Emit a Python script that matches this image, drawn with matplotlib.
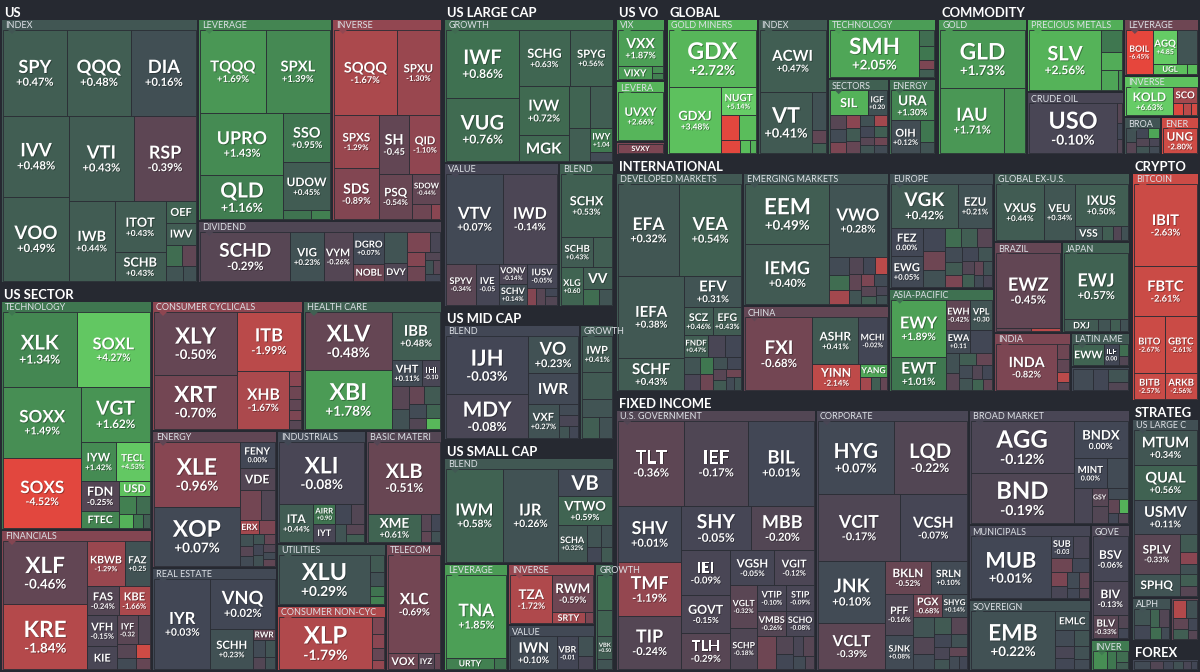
import matplotlib
matplotlib.use("Agg")
import matplotlib.pyplot as plt
from matplotlib.patches import Rectangle, Polygon
from matplotlib.colors import LinearSegmentedColormap, Normalize
from matplotlib.textpath import TextPath
from matplotlib.font_manager import FontProperties
import matplotlib.patheffects as pe

# ---------------- data: (ticker, size, % change) ----------------
US_INDEX = [("SPY", 5.4, 0.47), ("QQQ", 5.5, 0.48), ("DIA", 5.5, 0.16), ("IVV", 5.3, 0.48),
            ("VOO", 5.5, 0.49), ("VTI", 5.5, 0.43), ("RSP", 5.3, -0.39), ("IWB", 3.6, 0.44),
            ("ITOT", 2.6, 0.43), ("SCHB", 1.45, 0.43), ("OEF", 0.65, 0.57), ("IWV", 0.66, 0.45),
            ("", 0.35, 0.8), ("", 0.3, -0.4), ("", 0.25, 0.3), ("", 0.2, 0.2)]
US_LEVERAGE = [("TQQQ", 5.5, 1.69), ("SPXL", 5.4, 1.39), ("UPRO", 5.3, 1.43), ("QLD", 3.7, 1.16),
               ("SSO", 2.35, 0.95), ("UDOW", 2.25, 0.45), ("", 0.25, 0.9), ("", 0.17, 1.2)]
US_INVERSE = [("SQQQ", 5.6, -1.67), ("SPXU", 3.9, -1.30), ("SPXS", 2.5, -1.29), ("SDS", 2.4, -0.89),
              ("SH", 1.9, -0.45), ("QID", 1.9, -1.10), ("PSQ", 1.6, -0.54), ("SDOW", 0.87, -0.44),
              ("", 0.3, -0.6), ("", 0.15, -1.0)]
US_DIVIDEND = [("SCHD", 4.2, -0.29), ("VIG", 1.55, 0.23), ("VYM", 1.35, -0.26), ("DGRO", 0.96, 0.07),
               ("NOBL", 0.53, -0.6), ("", 0.66, 0.3), ("DVY", 0.4, -0.18), ("", 0.42, -0.8),
               ("FVD", 0.2, -0.1), ("", 0.25, -0.9), ("", 0.25, -0.6), ("", 0.12, -0.2),
               ("", 0.1, 0.2), ("", 0.1, -0.3), ("", 0.1, 0.0)]

SEC_TECH = [("XLK", 5.5, 1.34), ("SOXL", 5.5, 4.27), ("SOXX", 5.6, 1.49), ("SOXS", 5.5, -4.52),
            ("VGT", 3.85, 1.62), ("IYW", 1.33, 1.42), ("TECL", 1.33, 4.53), ("FDN", 1.14, -0.25),
            ("FTEC", 0.65, 1.30), ("USD", 0.47, 3.6), ("", 0.3, 1.2), ("", 0.25, 0.8),
            ("", 0.2, 2.5), ("", 0.15, 1.0), ("", 0.1, 0.5)]
SEC_FIN = [("XLF", 5.3, -0.46), ("KRE", 5.4, -1.84), ("KBWB", 1.67, -1.29), ("FAZ", 1.14, 0.25),
           ("FAS", 0.9, -0.24), ("KBE", 0.9, -1.66), ("VFH", 0.93, -0.15), ("KIE", 0.67, -0.1),
           ("IYF", 0.6, -0.32), ("", 0.36, -0.2), ("", 0.25, -0.3), ("", 0.2, 0.1),
           ("", 0.2, -2.8), ("", 0.15, -0.5)]
SEC_CC = [("XLY", 5.3, -0.50), ("XRT", 4.6, -0.70), ("ITB", 3.8, -1.99), ("XHB", 3.1, -1.67),
          ("", 0.18, -1.0), ("", 0.15, -0.6), ("", 0.13, -0.4), ("", 0.12, -0.8), ("", 0.1, -0.3)]
SEC_HC = [("XLV", 5.25, -0.48), ("XBI", 5.3, 1.78), ("IBB", 2.4, 0.48), ("VHT", 0.84, 0.11),
          ("IHI", 0.5, -0.1), ("", 0.4, -0.3), ("", 0.35, 0.2), ("", 0.3, -0.5), ("", 0.3, 0.4),
          ("", 0.25, 0.1), ("", 0.2, -0.2), ("", 0.2, 0.6), ("", 0.15, 2.8)]
SEC_ENERGY = [("XLE", 5.3, -0.96), ("XOP", 4.8, 0.07), ("FENY", 0.87, 0.0), ("VDE", 0.76, -0.2),
              ("", 0.6, -0.7), ("", 0.4, -0.2), ("ERX", 0.25, -1.5), ("", 0.2, -0.8),
              ("", 0.15, 0.2), ("", 0.13, -0.3), ("", 0.12, 0.1), ("", 0.12, 0.3),
              ("", 0.11, -0.5), ("", 0.1, 0.0), ("", 0.1, 0.2), ("", 0.09, -0.2),
              ("", 0.08, 0.1), ("", 0.08, -0.4)]
SEC_RE = [("IYR", 5.1, 0.03), ("VNQ", 3.25, 0.02), ("SCHH", 1.7, 0.23), ("RWR", 0.24, -0.5),
          ("", 0.2, 0.1), ("", 0.18, 0.3), ("", 0.14, -0.2), ("", 0.12, 0.2)]
SEC_IND = [("XLI", 5.1, -0.08), ("ITA", 1.25, 0.44), ("AIRR", 0.4, 0.9), ("IYT", 0.38, -0.1),
           ("", 0.3, 0.0), ("", 0.25, -0.2), ("", 0.2, 0.3), ("", 0.18, -0.3), ("", 0.13, 0.5)]
SEC_BM = [("XLB", 5.2, -0.51), ("XME", 1.5, 0.61), ("", 0.18, -0.3), ("", 0.15, 0.0),
          ("", 0.12, -0.4), ("", 0.1, 0.2)]
SEC_UTIL = [("XLU", 4.5, 0.29), ("", 0.25, 0.4), ("", 0.2, 0.2), ("", 0.15, 0.9), ("", 0.12, 1.2)]
SEC_CNC = [("XLP", 5.0, -1.79), ("", 0.22, -0.8), ("", 0.18, -1.0), ("", 0.15, -0.5), ("", 0.12, -1.2)]
SEC_TEL = [("XLC", 5.35, -0.69), ("VOX", 0.48, -0.6), ("IYZ", 0.27, -0.3), ("", 0.1, -0.5)]

LC_GROWTH = [("IWF", 4.8, 0.86), ("VUG", 4.5, 0.76), ("SCHG", 2.8, 0.63), ("SPYG", 2.3, 0.56),
             ("IVW", 2.4, 0.72), ("MGK", 1.25, 0.70), ("", 0.9, 0.6), ("", 0.9, 0.5),
             ("", 0.7, 0.5), ("IWY", 0.5, 1.04), ("", 0.2, 0.1)]
LC_VALUE = [("VTV", 5.0, 0.07), ("IWD", 4.8, -0.14), ("SPYV", 1.2, -0.34), ("IVE", 0.95, -0.05),
            ("VONV", 0.56, -0.14), ("SCHV", 0.59, 0.14), ("IUSV", 0.72, -0.05), ("RPV", 0.16, -0.9),
            ("", 0.15, -0.3), ("", 0.1, 0.0), ("", 0.1, -0.2)]
LC_BLEND = [("SCHX", 3.1, 0.53), ("SCHB", 0.95, 0.43), ("", 0.55, 0.5), ("XLG", 0.8, 0.6),
            ("VV", 0.6, 0.5), ("", 0.25, 0.8), ("", 0.2, 0.3)]

MC_BLEND = [("IJH", 4.35, -0.03), ("MDY", 3.24, -0.08), ("VO", 1.7, 0.23), ("IWR", 1.4, 0.06),
            ("VXF", 0.96, 0.27), ("", 0.2, 0.1), ("", 0.18, -0.1), ("", 0.12, 0.3), ("", 0.1, 0.0)]
MC_GROWTH = [("IWP", 1.2, 0.41), ("", 0.9, 0.4), ("", 0.6, 0.3), ("", 0.4, 0.5), ("", 0.3, 0.2)]

SC_BLEND = [("IWM", 5.0, 0.58), ("IJR", 4.9, 0.26), ("VB", 1.4, 0.07), ("VTWO", 1.5, 0.59),
            ("SCHA", 1.0, 0.32), ("", 0.3, 0.3), ("", 0.25, 0.2), ("", 0.2, 0.0), ("", 0.15, 0.4)]
SC_LEV = [("TNA", 5.1, 1.85), ("URTY", 0.55, 1.2), ("", 0.15, 0.9)]
SC_INV = [("TZA", 2.0, -1.72), ("RWM", 1.5, -0.59), ("SRTY", 0.38, -1.5), ("", 0.1, -0.8)]
SC_VALUE = [("IWN", 1.5, 0.1), ("VBR", 0.67, -0.01), ("", 0.3, 0.2), ("", 0.2, -0.1)]
SC_GROWTH = [("", 0.7, 0.8), ("", 0.5, 0.6), ("VBK", 0.45, 0.5), ("", 0.2, 0.3)]

VO_VIX = [("VXX", 1.6, 1.87), ("VIXY", 0.43, 1.8), ("", 0.07, 1.5), ("", 0.07, 1.2)]
VO_LEV = [("UVXY", 2.0, 2.66)]
VO_INV = [("SVXY", 0.5, -0.8)]

GL_GOLD = [("GDX", 4.9, 2.72), ("GDXJ", 3.4, 3.48), ("NUGT", 0.95, 5.14), ("", 0.42, -4.5),
           ("", 0.4, 3.0), ("", 0.25, -4.5), ("", 0.13, 3.0), ("", 0.08, 2.5)]
GL_INDEX = [("ACWI", 4.0, 0.47), ("VT", 3.2, 0.41), ("", 0.5, 0.2), ("", 0.17, -0.4), ("", 0.13, 0.5)]
GL_TECH = [("SMH", 4.3, 2.05), ("", 0.25, 0.8), ("", 0.2, 1.0), ("", 0.15, -0.8), ("", 0.12, 0.5)]
GL_SECT = [("SIL", 0.8, 2.5), ("IGF", 0.4, 0.2), ("", 0.2, -0.3), ("", 0.18, 0.1), ("", 0.16, -0.8),
           ("", 0.15, -1.0), ("", 0.15, 0.4), ("", 0.14, -0.5), ("", 0.13, 0.2), ("", 0.12, -1.5),
           ("", 0.12, 0.0), ("", 0.11, 0.5), ("", 0.1, -0.3), ("", 0.1, 0.3), ("", 0.09, -0.6),
           ("", 0.08, 0.1)]
GL_ENERGY = [("URA", 1.15, 1.3), ("OIH", 0.85, 0.12), ("", 0.26, 1.0), ("", 0.13, 0.3)]

CM_GOLD = [("GLD", 5.0, 1.73), ("IAU", 4.2, 1.71), ("", 1.4, 1.6)]
CM_PM = [("SLV", 4.4, 2.56), ("", 0.46, 1.0), ("", 0.38, 2.3), ("", 0.36, 2.0), ("", 0.08, 1.5)]
CM_OIL = [("USO", 4.5, -0.10), ("", 0.1, -0.3), ("", 0.08, 0.0), ("", 0.07, -0.2)]
CM_LEV = [("BOIL", 1.17, -6.45), ("AGQ", 0.82, 4.85), ("", 0.65, 0.3), ("UGL", 0.35, 3.4), ("", 0.1, 3.0)]
CM_INV = [("KOLD", 1.3, 6.63), ("SCO", 0.36, -1.5), ("", 0.12, -4.0), ("", 0.1, -2.0), ("", 0.08, -3.0)]
CM_BROA = [("", 0.15, 0.2), ("", 0.13, -0.3), ("", 0.12, 0.0), ("", 0.12, 2.0), ("", 0.1, -0.2),
           ("", 0.1, 0.3), ("", 0.08, -0.1), ("", 0.08, 0.1)]
CM_ENER = [("UNG", 0.82, -2.8)]

IN_DEV = [("EFA", 5.5, 0.32), ("VEA", 5.7, 0.54), ("IEFA", 5.4, 0.38), ("SCHF", 2.1, 0.43),
          ("EFV", 1.8, 0.31), ("SCZ", 0.8, 0.46), ("EFG", 0.8, 0.43), ("FNDF", 0.5, 0.47),
          ("", 0.36, -0.1), ("", 0.36, 0.0), ("", 0.28, 0.3), ("", 0.25, -0.1), ("", 0.22, 1.0),
          ("", 0.2, -0.6), ("", 0.18, 0.2), ("", 0.18, 0.0), ("", 0.15, -0.3), ("", 0.13, 0.4),
          ("", 0.12, -0.6), ("", 0.1, 0.1), ("", 0.1, 0.3)]
IN_EM = [("EEM", 5.0, 0.49), ("IEMG", 5.1, 0.40), ("VWO", 4.2, 0.28), ("", 0.35, 0.1), ("", 0.3, 0.8),
         ("", 0.28, -1.5), ("", 0.25, -0.2), ("", 0.22, 0.0), ("", 0.2, -2.0), ("", 0.2, -0.4),
         ("", 0.18, 0.3), ("", 0.16, -0.8), ("", 0.15, 0.1), ("", 0.14, -0.3), ("", 0.12, 0.5),
         ("", 0.1, -0.1), ("", 0.1, 0.2)]
IN_CHINA = [("FXI", 5.0, -0.68), ("ASHR", 2.2, 0.41), ("MCHI", 1.35, -0.02), ("YINN", 1.3, -2.14),
            ("YANG", 0.36, 2.0), ("", 0.15, -1.5), ("", 0.12, 0.5), ("", 0.1, -0.5)]
IN_EUROPE = [("VGK", 2.8, 0.42), ("EZU", 1.4, 0.21), ("FEZ", 0.87, 0.0), ("EWG", 0.93, 0.05),
             ("", 0.5, 0.0), ("", 0.4, -0.6), ("", 0.35, 0.2), ("", 0.3, 0.8), ("", 0.3, 0.5),
             ("", 0.28, -0.3), ("", 0.25, 0.1), ("", 0.22, 0.4), ("", 0.2, -0.8), ("", 0.2, 0.0),
             ("", 0.18, 0.3), ("", 0.15, -0.2), ("", 0.15, 0.5), ("", 0.12, -0.4), ("", 0.12, 0.2),
             ("", 0.1, 0.1), ("", 0.1, -0.1)]
IN_ASIA = [("EWY", 3.1, 1.89), ("EWT", 1.8, 1.01), ("EWH", 0.7, -0.42), ("VPL", 0.63, 0.3),
           ("EWA", 0.53, 0.11), ("", 0.48, 0.0), ("", 0.25, 0.2), ("", 0.22, -0.3), ("", 0.2, 0.5),
           ("", 0.18, -0.5), ("", 0.17, 0.1), ("", 0.15, 0.3), ("", 0.14, -0.2), ("", 0.13, 0.0),
           ("", 0.12, 0.6), ("", 0.1, -0.4)]
IN_GEX = [("VXUS", 2.7, 0.44), ("VEU", 1.7, 0.34), ("IXUS", 2.2, 0.5), ("VSS", 0.4, 0.3),
          ("", 0.15, 0.5), ("", 0.12, -0.2), ("", 0.1, 0.2)]
IN_BRAZIL = [("EWZ", 4.9, -0.45), ("", 0.12, -0.5), ("", 0.1, -2.0)]
IN_JAPAN = [("EWJ", 4.4, 0.57), ("DXJ", 0.43, 0.4), ("", 0.15, 0.3), ("", 0.12, 0.5), ("", 0.1, 0.2)]
IN_INDIA = [("INDA", 2.8, -0.82), ("", 0.18, -0.6), ("", 0.15, -0.4), ("", 0.12, -2.0), ("", 0.1, -0.3)]
IN_LATAM = [("EWW", 0.64, 0.6), ("ILF", 0.33, 0.0), ("", 0.1, 0.8), ("", 0.08, -0.2)]
IN_CANADA = [("", 0.25, 0.1), ("", 0.2, 0.0), ("", 0.15, 0.3), ("", 0.1, -0.2)]

FI_GOV = [("TLT", 5.3, -0.36), ("IEF", 5.2, -0.17), ("BIL", 5.3, 0.01), ("SHV", 3.4, 0.01),
          ("TMF", 3.2, -1.19), ("TIP", 3.2, -0.24), ("SHY", 3.0, -0.05), ("MBB", 2.7, -0.20),
          ("IEI", 2.1, -0.09), ("GOVT", 1.8, -0.15), ("TLH", 1.7, -0.29), ("VGSH", 1.45, -0.05),
          ("VGIT", 1.3, -0.12), ("VGLT", 1.1, -0.32), ("SCHP", 1.04, -0.18), ("VTIP", 0.73, -0.10),
          ("STIP", 0.68, -0.09), ("VMBS", 0.7, -0.26), ("SCHO", 0.65, -0.08), ("", 0.6, -0.6),
          ("", 0.3, -0.2), ("", 0.25, 0.0), ("", 0.2, -0.1), ("", 0.2, -0.3), ("", 0.15, 0.1),
          ("", 0.12, -0.2)]
FI_CORP = [("HYG", 5.4, 0.07), ("LQD", 5.2, -0.22), ("VCIT", 5.3, -0.17), ("VCSH", 4.3, -0.07),
           ("JNK", 4.1, 0.10), ("VCLT", 3.0, -0.39), ("BKLN", 1.45, -0.52), ("SRLN", 1.15, 0.10),
           ("PFF", 1.1, -0.16), ("SJNK", 0.92, 0.08), ("PGX", 0.66, -0.68), ("SHYG", 0.55, 0.14),
           ("", 0.4, 0.3), ("", 0.35, -0.2), ("", 0.3, 0.1), ("", 0.28, 0.4), ("", 0.25, -0.3),
           ("", 0.22, 0.0), ("", 0.2, 0.2), ("", 0.18, -0.1), ("", 0.15, 0.3), ("", 0.15, -0.4),
           ("", 0.12, 0.1), ("", 0.1, 0.0)]
FI_BROAD = [("AGG", 5.1, -0.12), ("BND", 4.9, -0.19), ("BNDX", 1.9, 0.0), ("MINT", 0.95, 0.0),
            ("", 0.6, 0.1), ("", 0.6, -0.1), ("GSY", 0.26, -0.3), ("", 0.27, -0.2), ("", 0.2, 0.1),
            ("", 0.15, -0.4), ("", 0.12, 2.5), ("", 0.1, 0.0), ("", 0.1, -0.2)]
FI_MUNI = [("MUB", 4.9, 0.01), ("SUB", 0.46, -0.03), ("", 0.34, -0.1), ("", 0.3, -0.6), ("", 0.25, 0.0),
           ("", 0.22, -0.8), ("", 0.2, -0.1), ("", 0.18, 0.1), ("", 0.15, -0.5), ("", 0.12, 0.0),
           ("", 0.1, -0.3)]
FI_SOV = [("EMB", 5.0, 0.22), ("EMLC", 0.65, 0.2), ("", 0.3, 0.1), ("", 0.25, 0.3), ("", 0.22, -0.1),
          ("", 0.2, 0.0), ("", 0.2, 0.2), ("", 0.15, 0.1)]
FI_GOVE = [("BSV", 1.6, -0.06), ("BIV", 1.2, -0.13), ("BLV", 0.6, -0.33), ("", 0.12, -0.2), ("", 0.1, 0.0)]
FI_INVER = [("", 0.3, 1.5), ("", 0.2, 1.0), ("", 0.15, 0.8), ("", 0.1, 0.5)]

CR_BITCOIN = [("IBIT", 5.0, -2.63), ("FBTC", 3.1, -2.61), ("BITO", 1.7, -2.67), ("GBTC", 1.77, -2.61),
              ("BITB", 0.78, -2.57), ("ARKB", 0.8, -2.56)]
ST_LARGE = [("MTUM", 2.1, 0.34), ("QUAL", 2.1, 0.56), ("USMV", 2.0, 0.11), ("SPLV", 1.75, -0.33),
            ("SPHQ", 0.95, 0.3), ("", 0.3, 0.4), ("", 0.2, -1.0), ("", 0.16, 0.2), ("", 0.2, 0.5),
            ("", 0.16, -0.3)]
ST_ALPH = [("", 0.3, 0.3), ("", 0.25, 0.0), ("", 0.2, 0.6), ("", 0.2, -0.2), ("", 0.15, 0.8),
           ("", 0.12, 0.1)]
ST_OTHER = [("", 0.3, -1.8), ("", 0.25, 0.2), ("", 0.2, -0.4), ("", 0.18, 0.5), ("", 0.15, 0.0),
            ("", 0.1, -0.3)]
FX_ALL = [("", 0.3, 0.1), ("", 0.25, -0.2), ("", 0.2, 0.0), ("", 0.18, 0.2), ("", 0.15, -0.1),
          ("", 0.12, 0.0)]

# groups: (header, size, leaves, tiling of strips)
US_GROUPS = [("INDEX", 52.1, US_INDEX, "r3 c2 r2 c1 c2 r1 r1"),
             ("LEVERAGE", 27.0, US_LEVERAGE, "r2 c2 r1 r1"),
             ("INVERSE", 22.3, US_INVERSE, "r2 c2 r2 c1 r1"),
             ("DIVIDEND", 15.1, US_DIVIDEND, "c1 c1 c1 c2 c2")]
SECTOR_GROUPS = [("TECHNOLOGY", 34.6, SEC_TECH, "r2 c2 r1 r2 c2 r1"),
                 ("FINANCIALS", 21.3, SEC_FIN, "c2 r2 r2 c2 r2"),
                 ("CONSUMER CYCLICALS", 19.6, SEC_CC, "c2 r1 c1"),
                 ("HEALTH CARE", 18.1, SEC_HC, "c2 r1 r2"),
                 ("ENERGY", 17.1, SEC_ENERGY, "c2 r1 r1 r2 r2"),
                 ("REAL ESTATE", 12.9, SEC_RE, "c1 r1 c1 r1"),
                 ("INDUSTRIALS", 10.1, SEC_IND, "r1 c1 c2"),
                 ("BASIC MATERI", 8.6, SEC_BM, "r1 c1"),
                 ("UTILITIES", 6.8, SEC_UTIL, "c1"),
                 ("CONSUMER NON-CYC", 7.1, SEC_CNC, "c1"),
                 ("TELECOM", 7.1, SEC_TEL, "r1 c1 c1")]
LARGE_GROUPS = [("GROWTH", 24.3, LC_GROWTH, "c2 r2 c2 r2 c1 r1"),
                ("VALUE", 16.4, LC_VALUE, "r2 c1 c1 c2 r1"),
                ("BLEND", 7.9, LC_BLEND, "r1 r2 c1 r1")]
MID_GROUPS = [("BLEND", 15.5, MC_BLEND, "c2 r1 r1 c1"),
              ("GROWTH", 3.9, MC_GROWTH, "r1")]
SMALL_GROUPS = [("BLEND", 17.7, SC_BLEND, "c1 c1 r1 r1 c1"),
                ("LEVERAGE", 6.8, SC_LEV, "r1"),
                ("INVERSE", 5.3, SC_INV, "c1 r1"),
                ("VALUE", 3.9, SC_VALUE, "c1 c1"),
                ("GROWTH", 2.0, SC_GROWTH, "r1 r1 r1")]
VO_GROUPS = [("VIX", 3.0, VO_VIX, "r1 c1"),
             ("LEVERA", 2.9, VO_LEV, ""),
             ("", 0.65, VO_INV, "")]
GLOBAL_GROUPS = [("GOLD MINERS", 12.3, GL_GOLD, "r1 c1 r1"),
                 ("INDEX", 9.5, GL_INDEX, "r1 c1"),
                 ("TECHNOLOGY", 6.5, GL_TECH, "c1"),
                 ("SECTORS", 4.6, GL_SECT, "r2"),
                 ("ENERGY", 3.6, GL_ENERGY, "r1 c1")]
COMMODITY_GROUPS = [("GOLD", 12.1, CM_GOLD, "r1 c1 c1"),
                    ("PRECIOUS METALS", 7.1, CM_PM, "c1"),
                    ("CRUDE OIL", 6.1, CM_OIL, "c1"),
                    ("LEVERAGE", 4.3, CM_LEV, "c1 r2 r2"),
                    ("INVERSE", 3.1, CM_INV, "c1 r1 r3"),
                    ("BROA", 1.4, CM_BROA, ""),
                    ("ENER", 1.44, CM_ENER, "")]
INTL_GROUPS = [("DEVELOPED MARKETS", 28.2, IN_DEV, "r2 c2 r1 r2 r3"),
               ("EMERGING MARKETS", 19.6, IN_EM, "c2 r1"),
               ("CHINA", 12.6, IN_CHINA, "c1 r2 c1 r1"),
               ("EUROPE", 12.3, IN_EUROPE, "r2 c2"),
               ("ASIA-PACIFIC", 11.0, IN_ASIA, "c2 r2 r2"),
               ("GLOBAL EX-U.S.", 9.5, IN_GEX, "c1 c1 r1"),
               ("BRAZIL", 6.3, IN_BRAZIL, "r1"),
               ("JAPAN", 6.2, IN_JAPAN, "r1"),
               ("INDIA", 4.6, IN_INDIA, "c1"),
               ("LATIN AME", 2.0, IN_LATAM, "c1 c1"),
               ("CANAD", 1.5, IN_CANADA, "")]
FIXED_GROUPS = [("U.S. GOVERNMENT", 52.4, FI_GOV, "r3 c3 r2 c3 r2 c2 r2 r2"),
                ("CORPORATE", 40.1, FI_CORP, "r2 r2 c2 r2 c2 r2"),
                ("BROAD MARKET", 18.7, FI_BROAD, "c2 r1 r2"),
                ("MUNICIPALS", 9.2, FI_MUNI, "c1 r2"),
                ("SOVEREIGN", 8.7, FI_SOV, "c1 r1"),
                ("GOVE", 4.5, FI_GOVE, "r1 r1 c1"),
                ("INVER", 1.2, FI_INVER, "")]
CRYPTO_GROUPS = [("BITCOIN", 17.0, CR_BITCOIN, "r1 r1 r2 r2")]
STRATEG_GROUPS = [("US LARGE C", 12.1, ST_LARGE, "r1 r1 r1 c2"),
                  ("ALPH", 1.7, ST_ALPH, ""),
                  ("", 1.2, ST_OTHER, "")]
FOREX_GROUPS = [("", 2.0, FX_ALL, "")]

SECTORS = [("US", 124.9, US_GROUPS, "c1 r2 r1"),
           ("US SECTOR", 171.9, SECTOR_GROUPS, "c2 r2 c2 r2 c2 c1"),
           ("US LARGE CAP", 52.6, LARGE_GROUPS, "r1 c1 c1"),
           ("US MID CAP", 22.9, MID_GROUPS, "c1 c1"),
           ("US SMALL CAP", 39.7, SMALL_GROUPS, "r1 c1 c2 c1"),
           ("US VO", 7.8, VO_GROUPS, "r1 r1 r1"),
           ("GLOBAL", 41.8, GLOBAL_GROUPS, "c1 c1 r1 c1 c1"),
           ("COMMODITY", 40.5, COMMODITY_GROUPS, "c1 c2 r1 r1 r2"),
           ("INTERNATIONAL", 122.1, INTL_GROUPS, "c1 c2 c2 r1 r2 c1 r1 r1"),
           ("FIXED INCOME", 143.7, FIXED_GROUPS, "c1 c1 r1 c2 r1 r1"),
           ("CRYPTO", 17.0, CRYPTO_GROUPS, ""),
           ("STRATEG", 16.6, STRATEG_GROUPS, "r1 r2"),
           ("FOREX", 2.1, FOREX_GROUPS, "")]
TOP_TILING = "c2 c3 r3 c2 r1 r1 r1"

# ---------------- layout ----------------
def squarify(values, rect):
    x0, y0, x1, y1 = rect
    out = []
    total = float(sum(values))
    i0, n = 0, len(values)
    while i0 < n:
        dx, dy = max(x1 - x0, 1e-6), max(y1 - y0, 1e-6)
        s = mn = mx = values[i0]
        i1 = i0 + 1
        alpha = max(dy / dx, dx / dy) / total
        beta = s * s * alpha
        best = max(mx / beta, beta / mn)
        while i1 < n:
            v = values[i1]
            s2, mn2, mx2 = s + v, min(mn, v), max(mx, v)
            beta = s2 * s2 * alpha
            r = max(mx2 / beta, beta / mn2)
            if r > best:
                break
            s, mn, mx, best = s2, mn2, mx2, r
            i1 += 1
        row = values[i0:i1]
        if dx < dy:
            t = dy * s / total
            xx = x0
            for v in row:
                w = dx * v / s
                out.append((xx, y0, xx + w, y0 + t))
                xx += w
            y0 += t
        else:
            t = dx * s / total
            yy = y0
            for v in row:
                h = dy * v / s
                out.append((x0, yy, x0 + t, yy + h))
                yy += h
            x0 += t
        total -= s
        i0 = i1
    return out


def tile(values, rect, tiling):
    x0, y0, x1, y1 = rect
    out = []
    total = float(sum(values))
    i = 0
    for step in tiling.split():
        if i >= len(values):
            break
        kind, k = step[0], int(step[1:])
        chunk = values[i:i + k]
        s = sum(chunk)
        if kind == "r":
            t = (y1 - y0) * s / total
            xx = x0
            for v in chunk:
                w = (x1 - x0) * v / s
                out.append((xx, y0, xx + w, y0 + t))
                xx += w
            y0 += t
        else:
            t = (x1 - x0) * s / total
            yy = y0
            for v in chunk:
                h = (y1 - y0) * v / s
                out.append((x0, yy, x0 + t, yy + h))
                yy += h
            x0 += t
        total -= s
        i += len(chunk)
    if i < len(values):
        out += squarify(values[i:], (x0, y0, x1, y1))
    return out

# ---------------- style ----------------
W, H = 1200, 672
BG = "#262931"
EDGE = "#2a2d35"
PX = 0.72  # points per pixel at dpi 100
cmap = LinearSegmentedColormap.from_list("fv", [
    (0.0, "#e6463c"), (0.2, "#d34b44"), (0.3, "#bb4a4a"), (0.4, "#8a4652"),
    (0.5, "#424655"), (0.6, "#3f7750"), (0.7, "#4ea557"), (0.8, "#5abd5b"), (1.0, "#66cc66")])
norm = Normalize(-5, 5)
FB = FontProperties(family="Lato", weight="bold")
_wcache = {}


def text_w(s):
    if s not in _wcache:
        _wcache[s] = TextPath((0, 0), s, size=1, prop=FB).get_extents().width
    return _wcache[s]


shadow = [pe.withSimplePatchShadow(offset=(0.6, -0.6), shadow_rgbFace="black", alpha=0.35)]


def fmt(c):
    return "0.00%" if abs(c) < 0.005 else f"{c:+.2f}%"


def draw_leaf(ax, r, ticker, chg):
    x0, y0, x1, y1 = r
    w, h = x1 - x0, y1 - y0
    p = Rectangle((x0, y0), w, h, facecolor=cmap(norm(chg)), edgecolor=EDGE, linewidth=0.6)
    ax.add_patch(p)
    if not ticker:
        return
    cx, cy = (x0 + x1) / 2, (y0 + y1) / 2
    sw = min(0.65 * w / len(ticker) + 4.35, (w - 3) / text_w(ticker), 24)
    s = min(sw, h / 2.1)
    pct = fmt(chg)
    ps = 0.5 * s + 2
    two = h >= (2.1 if sw < 15.5 else 1.5) * sw and h >= 18
    if two and text_w(pct) * ps > w - 3:
        pct = pct[:-1]
        if text_w(pct) * ps > w - 2:
            two = False
    kw = dict(ha="center", va="baseline", color="white", fontproperties=FB, clip_path=p,
              path_effects=shadow)
    if two:
        T = 0.72 * s + 0.26 * s + 0.72 * ps
        top = cy - T / 2
        ax.text(cx, top + 0.72 * s, ticker, fontsize=s * PX, **kw)
        ax.text(cx, top + T, pct, fontsize=ps * PX, **kw)
    else:
        s = min(sw, 0.75 * h)
        if s < 5.5:
            return
        ax.text(cx, cy + 0.36 * s, ticker, fontsize=s * PX, **kw)


def draw_group(ax, r, name, leaves, tiling):
    x0, y0, x1, y1 = r[0] + 1, r[1] + 1, r[2] - 1, r[3] - 1
    tot = sum(v for _, v, _ in leaves)
    avg = sum(v * c for _, v, c in leaves) / tot
    col = cmap(norm(avg))
    gp = Rectangle((x0, y0), x1 - x0, y1 - y0, facecolor=col, edgecolor="none")
    ax.add_patch(gp)
    header = bool(name) and (y1 - y0) >= 24
    inner = (x0 + 1, y0 + (10 if header else 1), x1 - 1, y1 - 1)
    rects = tile([v for _, v, _ in leaves], inner, tiling)
    for rr, (t, v, c) in zip(rects, leaves):
        draw_leaf(ax, rr, t, c)
    if header:
        ax.text(x0 + 3, y0 + 8.3, name, fontsize=9 * PX, color="#dde1e6", family="Lato",
                ha="left", va="baseline", clip_path=gp)
        ax.add_patch(Polygon([(x0 + 6, y0 + 10), (x0 + 14, y0 + 10), (x0 + 10, y0 + 14)],
                             closed=True, facecolor=col, edgecolor="none", zorder=3))


fig = plt.figure(figsize=(12, 6.72), dpi=100)
fig.patch.set_facecolor(BG)
ax = fig.add_axes([0, 0, 1, 1])
ax.set_xlim(0, W)
ax.set_ylim(H, 0)
ax.axis("off")
ax.set_facecolor(BG)

sec_rects = tile([s for _, s, _, _ in SECTORS], (0, 2, W, H), TOP_TILING)
for (title, _, groups, tiling), (x0, y0, x1, y1) in zip(SECTORS, sec_rects):
    ax.text(x0 + 4, y0 + 15, title, fontsize=13 * PX, color="white", fontproperties=FB,
            ha="left", va="baseline")
    g_rects = tile([g[1] for g in groups], (x0 + 1, y0 + 17, x1 - 1, y1 - 1), tiling)
    for (name, _, leaves, lt), gr in zip(groups, g_rects):
        draw_group(ax, gr, name, leaves, lt)

fig.savefig("out.png", dpi=100, facecolor=BG)
